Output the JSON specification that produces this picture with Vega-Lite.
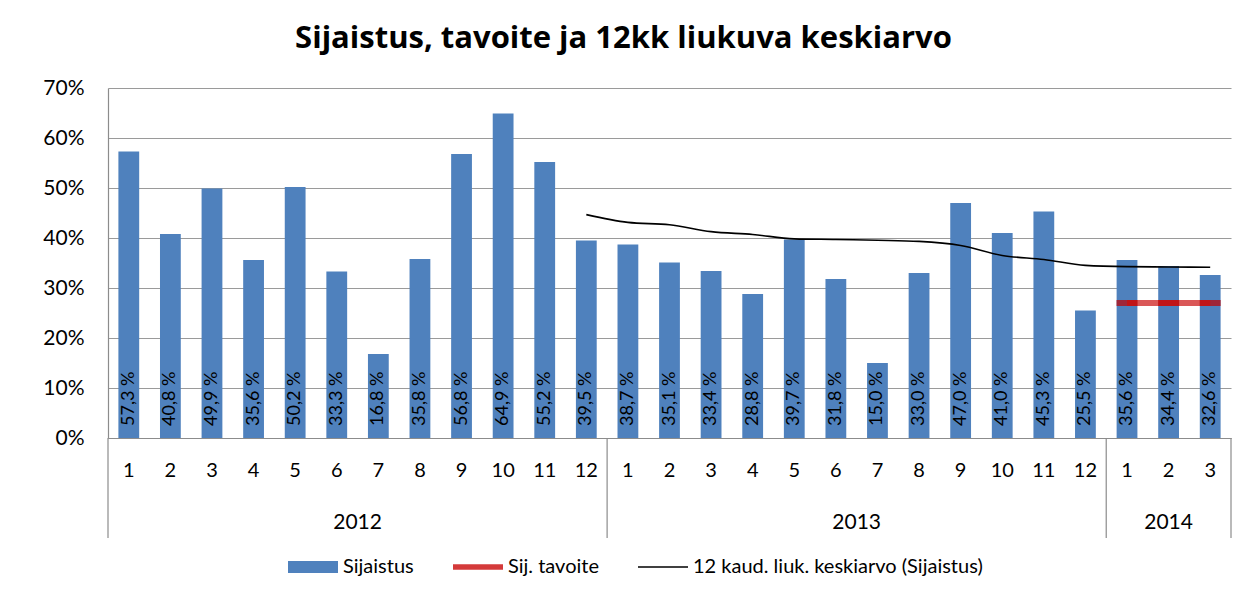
{
  "$schema": "https://vega.github.io/schema/vega-lite/v6.json",
  "autosize": {"type": "none"},
  "width": 1123,
  "height": 350,
  "padding": {"left": 108, "top": 88, "right": 15, "bottom": 154},
  "background": "white",
  "title": {
    "text": "Sijaistus, tavoite ja 12kk liukuva keskiarvo",
    "font": "Open Sans",
    "fontSize": 31,
    "fontWeight": "bold",
    "color": "#000000",
    "anchor": "middle",
    "dx": -46,
    "offset": 22
  },
  "datasets": {
    "bars": [
      {"key": "2012-1", "v": 0.573}, {"key": "2012-2", "v": 0.408}, {"key": "2012-3", "v": 0.499},
      {"key": "2012-4", "v": 0.356}, {"key": "2012-5", "v": 0.502}, {"key": "2012-6", "v": 0.333},
      {"key": "2012-7", "v": 0.168}, {"key": "2012-8", "v": 0.358}, {"key": "2012-9", "v": 0.568},
      {"key": "2012-10", "v": 0.649}, {"key": "2012-11", "v": 0.552}, {"key": "2012-12", "v": 0.395},
      {"key": "2013-1", "v": 0.387}, {"key": "2013-2", "v": 0.351}, {"key": "2013-3", "v": 0.334},
      {"key": "2013-4", "v": 0.288}, {"key": "2013-5", "v": 0.397}, {"key": "2013-6", "v": 0.318},
      {"key": "2013-7", "v": 0.150}, {"key": "2013-8", "v": 0.330}, {"key": "2013-9", "v": 0.470},
      {"key": "2013-10", "v": 0.410}, {"key": "2013-11", "v": 0.453}, {"key": "2013-12", "v": 0.255},
      {"key": "2014-1", "v": 0.356}, {"key": "2014-2", "v": 0.344}, {"key": "2014-3", "v": 0.326}
    ],
    "ma": [
      {"key": "2012-12", "ma": 0.44675}, {"key": "2013-1", "ma": 0.43125}, {"key": "2013-2", "ma": 0.4265},
      {"key": "2013-3", "ma": 0.41275}, {"key": "2013-4", "ma": 0.40708}, {"key": "2013-5", "ma": 0.39833},
      {"key": "2013-6", "ma": 0.39708}, {"key": "2013-7", "ma": 0.39558}, {"key": "2013-8", "ma": 0.39325},
      {"key": "2013-9", "ma": 0.38508}, {"key": "2013-10", "ma": 0.36517}, {"key": "2013-11", "ma": 0.35692},
      {"key": "2013-12", "ma": 0.34525}, {"key": "2014-1", "ma": 0.34267}, {"key": "2014-2", "ma": 0.34208},
      {"key": "2014-3", "ma": 0.34142}
    ],
    "target": [
      {"key": "2014-1", "t": 0.27}, {"key": "2014-2", "t": 0.27}, {"key": "2014-3", "t": 0.27}
    ],
    "yearsMid": [
      {"key": "2012-6", "year": "2012"}, {"key": "2013-6", "year": "2013"}
    ],
    "yearsBand": [
      {"key": "2014-2", "year": "2014"}
    ],
    "sepStart": [
      {"key": "2012-1"}, {"key": "2013-1"}, {"key": "2014-1"}
    ],
    "sepEnd": [
      {"key": "2014-3"}
    ]
  },
  "config": {
    "locale": {
      "number": {"decimal": ",", "thousands": " ", "grouping": [3], "currency": ["", " €"], "percent": " %"}
    },
    "view": {"stroke": null},
    "font": "Lato",
    "text": {"font": "Lato"}
  },
  "encoding": {
    "x": {
      "field": "key",
      "type": "nominal",
      "sort": null,
      "scale": {
        "domain": ["2012-1","2012-2","2012-3","2012-4","2012-5","2012-6","2012-7","2012-8","2012-9","2012-10","2012-11","2012-12",
                   "2013-1","2013-2","2013-3","2013-4","2013-5","2013-6","2013-7","2013-8","2013-9","2013-10","2013-11","2013-12",
                   "2014-1","2014-2","2014-3"],
        "paddingInner": 0,
        "paddingOuter": 0
      },
      "axis": {
        "title": null,
        "labelAngle": 0,
        "labelExpr": "split(datum.value, '-')[1]",
        "labelFont": "Lato",
        "labelFontSize": 20,
        "labelColor": "#000000",
        "labelPadding": 22,
        "ticks": false,
        "domainColor": "#8C8C8C",
        "domainWidth": 1.2,
        "grid": false
      }
    }
  },
  "layer": [
    {
      "data": {"name": "bars"},
      "mark": {"type": "bar", "width": {"band": 0.5}, "color": "#4F81BD"},
      "encoding": {
        "y": {
          "field": "v",
          "type": "quantitative",
          "scale": {"domain": [0, 0.7], "nice": false, "zero": true},
          "axis": {
            "title": null,
            "format": ".0%",
            "labelExpr": "replace(datum.label, ' ', '')",
            "values": [0, 0.1, 0.2, 0.3, 0.4, 0.5, 0.6, 0.7],
            "labelFont": "Lato",
            "labelFontSize": 21,
            "labelColor": "#000000",
            "labelPadding": 24,
            "ticks": false,
            "domainColor": "#8C8C8C",
            "domainWidth": 1.2,
            "grid": true,
            "gridColor": "#9A9A9A",
            "gridWidth": 1.2
          }
        },
        "color": {
          "datum": "Sijaistus",
          "scale": {
            "domain": ["Sijaistus", "Sij. tavoite", "12 kaud. liuk. keskiarvo (Sijaistus)"],
            "range": ["#4F81BD", "#D43A3A", "#000000"]
          },
          "legend": {
            "title": null,
            "orient": "none",
            "legendX": 180,
            "legendY": 454,
            "direction": "horizontal",
            "gridAlign": "none",
            "padding": 0,
            "symbolSize": 2500,
            "labelFont": "Lato",
            "labelFontSize": 20,
            "labelColor": "#000000",
            "labelLimit": 500,
            "labelOffset": 5,
            "columnPadding": 39,
            "encode": {
              "symbols": {
                "update": {
                  "shape": {"signal": "datum.value === 'Sijaistus' ? 'M-1,-0.24H1V0.24H-1Z' : (datum.value === 'Sij. tavoite' ? 'M-1,-0.11H1V0.11H-1Z' : 'M-1,-0.03H1V0.03H-1Z')"},
                  "fill": {"signal": "datum.value === 'Sijaistus' ? '#4F81BD' : (datum.value === 'Sij. tavoite' ? '#D43A3A' : '#000000')"},
                  "strokeWidth": {"value": 0},
                  "opacity": {"value": 1}
                }
              }
            }
          }
        }
      }
    },
    {
      "data": {"name": "bars"},
      "mark": {"type": "text", "angle": 270, "align": "left", "baseline": "middle", "dx": 12, "fontSize": 18, "font": "Lato", "color": "#000000"},
      "encoding": {
        "y": {"datum": 0, "type": "quantitative"},
        "text": {"field": "v", "type": "quantitative", "format": ".1%"}
      }
    },
    {
      "data": {"name": "target"},
      "mark": {"type": "line", "strokeWidth": 6, "opacity": 0.85},
      "encoding": {
        "y": {"field": "t", "type": "quantitative"},
        "color": {"datum": "Sij. tavoite"}
      }
    },
    {
      "data": {"name": "target"},
      "mark": {"type": "tick", "size": 21, "thickness": 6, "color": "#C00000", "orient": "horizontal"},
      "encoding": {
        "y": {"field": "t", "type": "quantitative"}
      }
    },
    {
      "data": {"name": "ma"},
      "mark": {"type": "line", "strokeWidth": 1.6, "interpolate": "monotone"},
      "encoding": {
        "y": {"field": "ma", "type": "quantitative"},
        "color": {"datum": "12 kaud. liuk. keskiarvo (Sijaistus)"}
      }
    },
    {
      "data": {"name": "sepStart"},
      "mark": {"type": "rule", "color": "#8C8C8C", "strokeWidth": 1.2},
      "encoding": {
        "x": {"field": "key", "type": "nominal", "sort": null, "bandPosition": 0},
        "y": {"datum": 0, "type": "quantitative"},
        "y2": {"datum": -0.2}
      }
    },
    {
      "data": {"name": "sepEnd"},
      "mark": {"type": "rule", "color": "#8C8C8C", "strokeWidth": 1.2},
      "encoding": {
        "x": {"field": "key", "type": "nominal", "sort": null, "bandPosition": 1},
        "y": {"datum": 0, "type": "quantitative"},
        "y2": {"datum": -0.2}
      }
    },
    {
      "data": {"name": "yearsMid"},
      "mark": {"type": "text", "align": "center", "baseline": "middle", "fontSize": 21, "font": "Lato", "color": "#000000"},
      "encoding": {
        "x": {"field": "key", "type": "nominal", "sort": null, "bandPosition": 1},
        "y": {"datum": -0.17, "type": "quantitative"},
        "text": {"field": "year", "type": "nominal"}
      }
    },
    {
      "data": {"name": "yearsBand"},
      "mark": {"type": "text", "align": "center", "baseline": "middle", "fontSize": 21, "font": "Lato", "color": "#000000"},
      "encoding": {
        "x": {"field": "key", "type": "nominal", "sort": null, "bandPosition": 0.5},
        "y": {"datum": -0.17, "type": "quantitative"},
        "text": {"field": "year", "type": "nominal"}
      }
    }
  ]
}
